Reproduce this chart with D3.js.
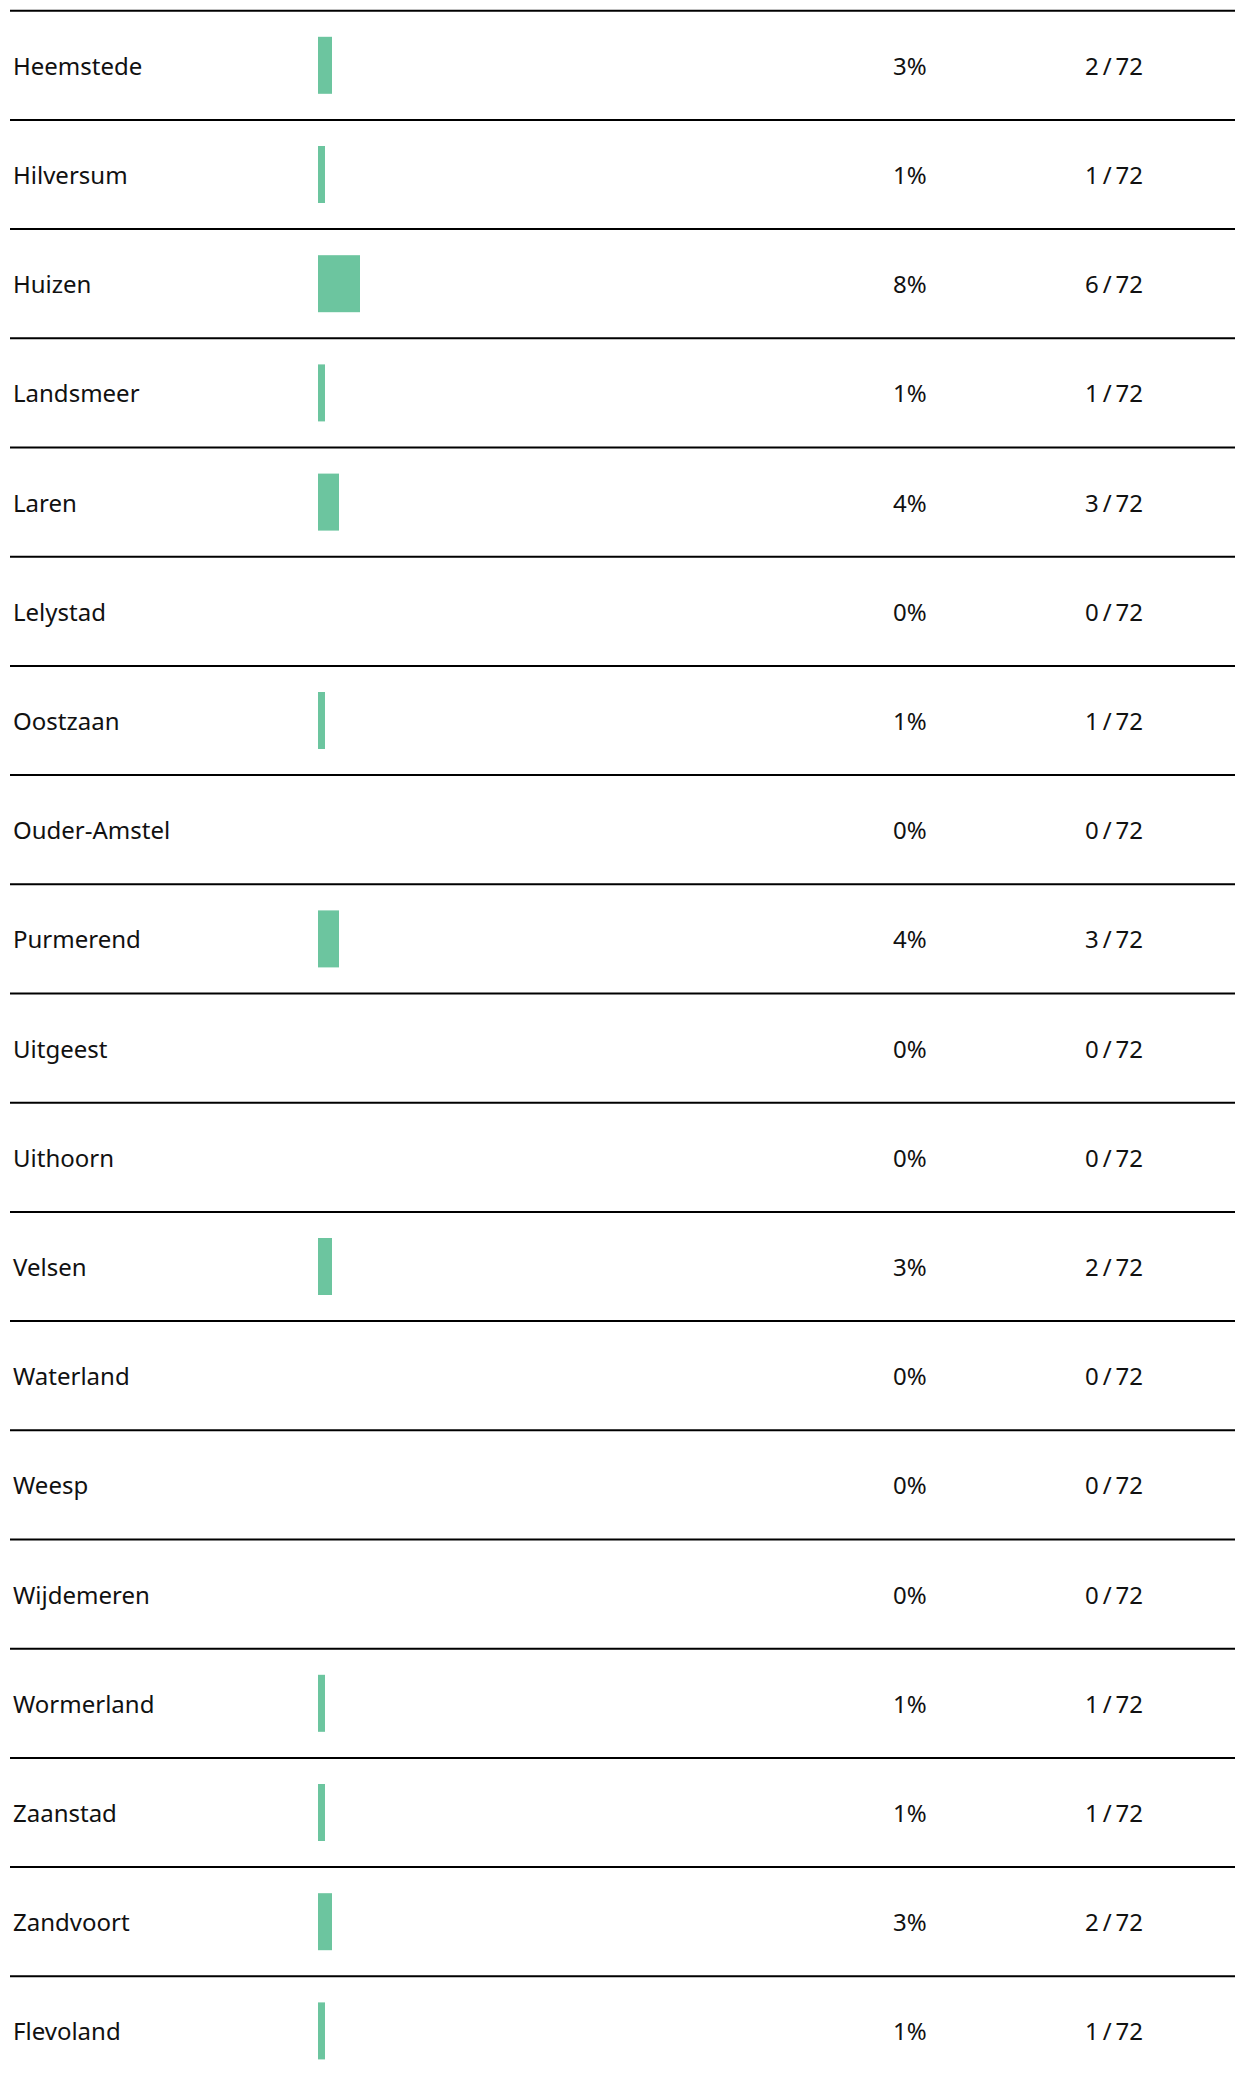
<!DOCTYPE html>
<html>
<head>
<meta charset="utf-8">
<script src="https://cdn.jsdelivr.net/npm/d3@7"></script>
<style>
  html, body { margin: 0; padding: 0; background: #fff; }
  svg text { font-family: "Noto Sans", "Lato", sans-serif; fill: #111; }
</style>
</head>
<body>
<svg width="1237" height="2078"></svg>
<script>
// Municipalities and their counts (out of total)
const names = ["Heemstede", "Hilversum", "Huizen", "Landsmeer", "Laren", "Lelystad",
    "Oostzaan", "Ouder-Amstel", "Purmerend", "Uitgeest", "Uithoorn", "Velsen",
    "Waterland", "Weesp", "Wijdemeren", "Wormerland", "Zaanstad", "Zandvoort", "Flevoland"];
const counts = [2, 1, 6, 1, 3, 0, 1, 0, 3, 0, 0, 2, 0, 0, 0, 1, 1, 2, 1];
const total = 72;

const rows = names.map((name, i) => ({ name, count: counts[i] }));

const svg = d3.select("svg");
const rowH = 109.2;
const topY = 10.7;

// Scales
const y = d3.scaleBand()
    .domain(names)
    .range([topY, topY + rowH * names.length])
    .padding(0);

const x = d3.scaleLinear()
    .domain([0, total])
    .range([0, 504]);

const barX = 318;
const barH = 57;

const row = svg.selectAll("g.row")
    .data(rows)
    .join("g")
    .attr("class", "row")
    .attr("transform", d => `translate(0,${y(d.name)})`);

// Separator line at the top of each row
row.append("line")
    .attr("x1", 10)
    .attr("x2", 1235)
    .attr("y1", 0)
    .attr("y2", 0)
    .attr("stroke", "#000")
    .attr("stroke-width", 2);

// Name label
row.append("text")
    .attr("x", 13)
    .attr("y", y.bandwidth() / 2)
    .attr("dy", "0.4em")
    .style("font-size", "24px")
    .text(d => d.name);

// Bar
row.filter(d => d.count > 0)
    .append("rect")
    .attr("x", barX)
    .attr("y", (y.bandwidth() - barH) / 2)
    .attr("width", d => x(d.count))
    .attr("height", barH)
    .attr("fill", "#6cc59f");

// Percentage
row.append("text")
    .attr("x", 893)
    .attr("y", y.bandwidth() / 2)
    .attr("dy", "0.4em")
    .style("font-size", "24px")
    .text(d => d3.format(".0%")(d.count / total));

// Count / total
row.append("text")
    .attr("x", 1085)
    .attr("y", y.bandwidth() / 2)
    .attr("dy", "0.4em")
    .style("font-size", "24px")
    .text(d => `${d.count}\u2009/\u200972`);
</script>
</body>
</html>
